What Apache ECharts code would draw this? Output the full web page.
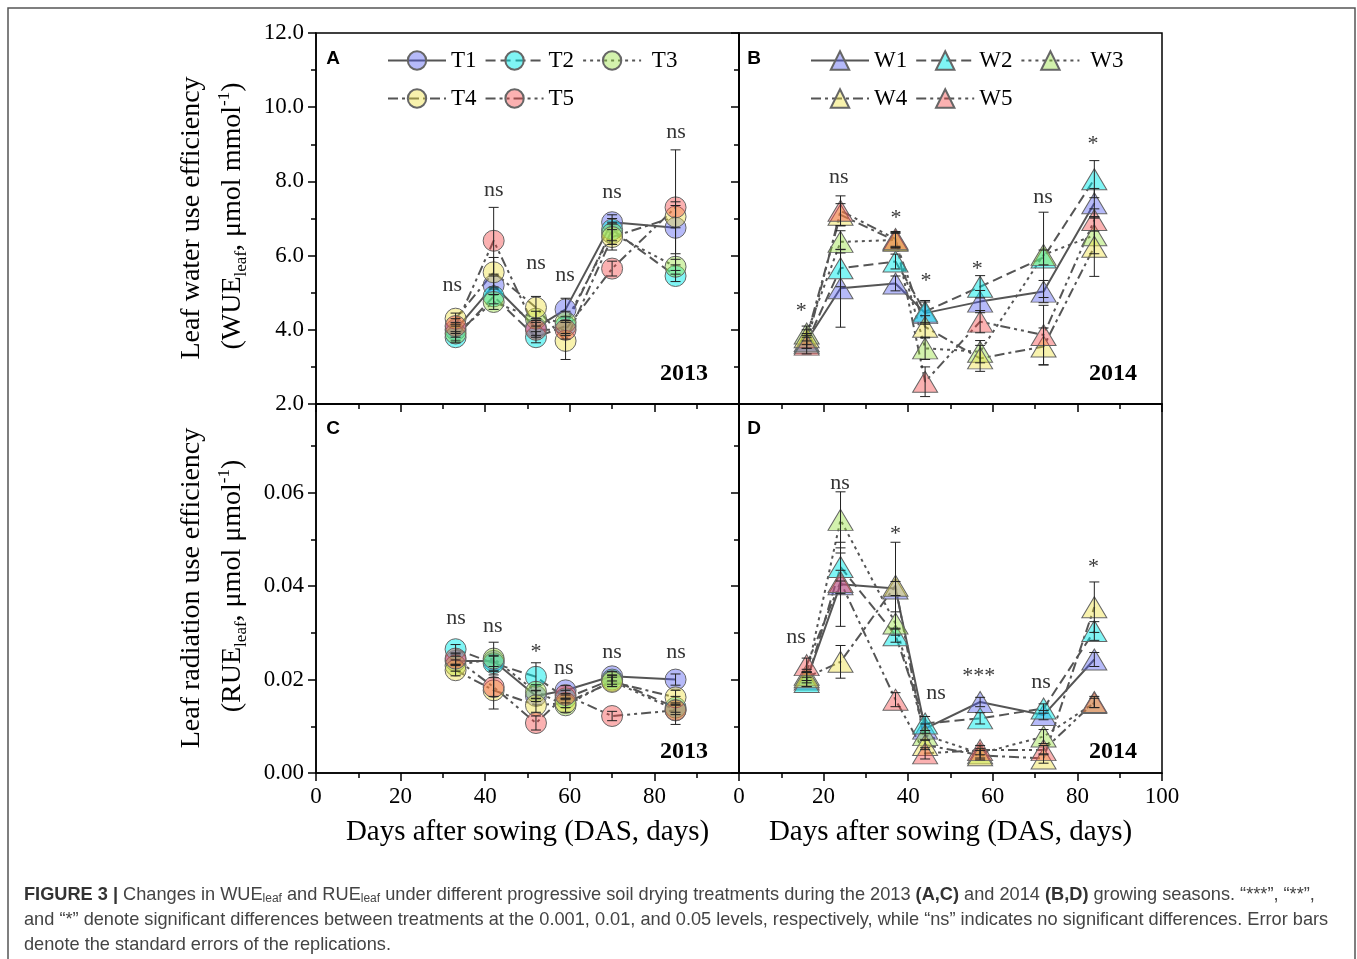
<!DOCTYPE html>
<html>
<head>
<meta charset="utf-8">
<script src="https://cdn.jsdelivr.net/npm/echarts@6/dist/echarts.min.js"></script>
<style>
  html, body { margin: 0; padding: 0; background: #fff; }
  #chart { width: 1357px; height: 959px; }
</style>
</head>
<body>
<div id="chart"></div>
<script>
// sampling days (DAS)
const das2013 = [33, 42, 52, 59, 70, 85];
const das2014 = [16, 24, 37, 44, 57, 72, 84];

const names2013 = ['T1', 'T2', 'T3', 'T4', 'T5'];
const names2014 = ['W1', 'W2', 'W3', 'W4', 'W5'];

// A: WUE leaf 2013
const wueT1 = [4.0, 5.2, 4.05, 4.55, 6.9, 6.75];
const wueT2 = [3.8, 4.9, 3.8, 4.1, 6.7, 5.45];
const wueT3 = [3.9, 4.75, 4.3, 4.2, 6.6, 5.7];
const wueT4 = [4.3, 5.55, 4.6, 3.7, 6.5, 7.05];
const wueT5 = [4.1, 6.4, 4.0, 4.0, 5.65, 7.3];
const wueT1Se = [0.2, 0.25, 0.2, 0.3, 0.2, 0.7];
const wueT2Se = [0.15, 0.2, 0.15, 0.25, 0.3, 0.15];
const wueT3Se = [0.2, 0.2, 0.2, 0.3, 0.3, 0.2];
const wueT4Se = [0.15, 0.4, 0.3, 0.5, 0.35, 0.3];
const wueT5Se = [0.2, 0.9, 0.2, 0.25, 0.2, 1.55];

// B: WUE leaf 2014
const wueW1 = [3.7, 5.12, 5.25, 4.45, 4.76, 5.03, 7.41];
const wueW2 = [3.65, 5.66, 5.84, 4.49, 5.16, 5.95, 8.06];
const wueW3 = [3.9, 6.37, 6.42, 3.5, 3.41, 6.02, 6.55];
const wueW4 = [3.8, 7.1, 6.4, 4.08, 3.23, 3.55, 6.24];
const wueW5 = [3.6, 7.21, 6.45, 2.6, 4.22, 3.86, 6.96];
const wueW1Se = [0.2, 1.05, 0.2, 0.3, 0.3, 0.3, 0.4];
const wueW2Se = [0.15, 0.5, 0.2, 0.3, 0.3, 0.2, 0.5];
const wueW3Se = [0.2, 0.3, 0.2, 0.3, 0.3, 1.15, 0.5];
const wueW4Se = [0.2, 0.3, 0.2, 0.3, 0.35, 0.5, 0.8];
const wueW5Se = [0.25, 0.4, 0.2, 0.4, 0.3, 0.8, 0.3];

// C: RUE leaf 2013
const rueT1 = [0.024, 0.024, 0.0165, 0.0177, 0.0207, 0.020];
const rueT2 = [0.0265, 0.0235, 0.0206, 0.016, 0.020, 0.014];
const rueT3 = [0.023, 0.0245, 0.0174, 0.0145, 0.0197, 0.0135];
const rueT4 = [0.022, 0.0177, 0.0145, 0.015, 0.0195, 0.0162];
const rueT5 = [0.0245, 0.0184, 0.0107, 0.0167, 0.0122, 0.0134];
const rueT1Se = [0.001, 0.0012, 0.0012, 0.001, 0.001, 0.0012];
const rueT2Se = [0.001, 0.0015, 0.003, 0.001, 0.001, 0.001];
const rueT3Se = [0.0012, 0.0035, 0.0015, 0.0015, 0.0012, 0.001];
const rueT4Se = [0.0012, 0.004, 0.0015, 0.001, 0.001, 0.0015];
const rueT5Se = [0.0012, 0.002, 0.0015, 0.001, 0.001, 0.003];

// D: RUE leaf 2014
const rueW1 = [0.020, 0.0404, 0.0395, 0.0095, 0.0152, 0.0124, 0.0243];
const rueW2 = [0.0195, 0.0441, 0.0295, 0.0106, 0.0117, 0.0138, 0.0304];
const rueW3 = [0.021, 0.0542, 0.032, 0.0081, 0.0042, 0.0078, 0.015];
const rueW4 = [0.0205, 0.0238, 0.0401, 0.006, 0.0038, 0.0031, 0.0355];
const rueW5 = [0.0231, 0.0409, 0.0157, 0.0042, 0.0049, 0.0049, 0.0152];
const rueW1Se = [0.0015, 0.009, 0.0015, 0.001, 0.001, 0.001, 0.0015];
const rueW2Se = [0.001, 0.003, 0.0015, 0.0015, 0.0012, 0.001, 0.002];
const rueW3Se = [0.0012, 0.006, 0.0025, 0.001, 0.001, 0.0015, 0.001];
const rueW4Se = [0.0012, 0.0035, 0.0093, 0.001, 0.001, 0.001, 0.0054];
const rueW5Se = [0.0015, 0.0025, 0.0015, 0.0012, 0.001, 0.001, 0.0012];

// significance labels [DAS, y, text]
const sigA = [[32.2, 5.21, 'ns'], [42, 7.77, 'ns'], [52, 5.8, 'ns'], [58.9, 5.48, 'ns'], [70, 7.71, 'ns'], [85.1, 9.33, 'ns']];
const sigB = [[14.7, 4.5, '*'], [23.6, 8.12, 'ns'], [37.1, 7.0, '*'], [44.2, 5.3, '*'], [56.3, 5.63, '*'], [71.9, 7.58, 'ns'], [83.7, 9.0, '*']];
const sigC = [[33.1, 0.0331, 'ns'], [41.8, 0.0314, 'ns'], [52, 0.0258, '*'], [58.6, 0.0224, 'ns'], [70, 0.0258, 'ns'], [85.1, 0.0258, 'ns']];
const sigD = [[13.5, 0.029, 'ns'], [23.9, 0.0621, 'ns'], [37, 0.0512, '*'], [46.6, 0.0171, 'ns'], [56.7, 0.0207, '***'], [71.4, 0.0194, 'ns'], [83.8, 0.044, '*']];

const fills = ['rgba(80,90,240,0.42)', 'rgba(0,235,235,0.5)', 'rgba(150,225,60,0.42)', 'rgba(238,225,60,0.42)', 'rgba(245,70,70,0.42)'];
const dashes = ['solid', [10, 5], [3, 4], [10, 4, 3, 4], [10, 4, 3, 4, 3, 4]];
const serif = '"Liberation Serif", "Times New Roman", serif';
const sans = '"Liberation Sans", Arial, sans-serif';

const chart = echarts.init(document.getElementById('chart'));

function errRender(params, api) {
  const x = api.value(0), y = api.value(1), e = api.value(2);
  const t = api.coord([x, y + e]);
  const b = api.coord([x, y - e]);
  const w = 5;
  const st = { stroke: '#222', lineWidth: 1 };
  return {
    type: 'group',
    children: [
      { type: 'line', shape: { x1: t[0], y1: t[1], x2: b[0], y2: b[1] }, style: st },
      { type: 'line', shape: { x1: t[0] - w, y1: t[1], x2: t[0] + w, y2: t[1] }, style: st },
      { type: 'line', shape: { x1: b[0] - w, y1: b[1], x2: b[0] + w, y2: b[1] }, style: st }
    ]
  };
}

const series = [];
function addPanel(idx, xs, names, vals, ses, sig, symbol, size) {
  names.forEach((n, i) => {
    series.push({
      name: n,
      type: 'line',
      xAxisIndex: idx,
      yAxisIndex: idx,
      data: xs.map((x, j) => [x, vals[i][j]]),
      symbol: symbol,
      symbolSize: size,
      z: 3,
      lineStyle: { color: '#555', width: 2, type: dashes[i] },
      itemStyle: { color: fills[i], borderColor: '#666', borderWidth: 1 },
      emphasis: { disabled: true }
    });
  });
  names.forEach((n, i) => {
    series.push({
      type: 'custom',
      xAxisIndex: idx,
      yAxisIndex: idx,
      z: 4,
      silent: true,
      renderItem: errRender,
      encode: { x: 0, y: 1 },
      data: xs.map((x, j) => [x, vals[i][j], ses[i][j]])
    });
  });
  series.push({
    type: 'scatter',
    xAxisIndex: idx,
    yAxisIndex: idx,
    symbolSize: 1,
    silent: true,
    itemStyle: { color: 'transparent' },
    label: {
      show: true,
      position: 'inside',
      formatter: p => p.data[2],
      fontFamily: serif,
      fontSize: 22,
      color: '#000'
    },
    data: sig
  });
}

addPanel(0, das2013, names2013, [wueT1, wueT2, wueT3, wueT4, wueT5], [wueT1Se, wueT2Se, wueT3Se, wueT4Se, wueT5Se], sigA, 'circle', 21);
addPanel(1, das2014, names2014, [wueW1, wueW2, wueW3, wueW4, wueW5], [wueW1Se, wueW2Se, wueW3Se, wueW4Se, wueW5Se], sigB, 'triangle', [25, 21]);
addPanel(2, das2013, names2013, [rueT1, rueT2, rueT3, rueT4, rueT5], [rueT1Se, rueT2Se, rueT3Se, rueT4Se, rueT5Se], sigC, 'circle', 21);
addPanel(3, das2014, names2014, [rueW1, rueW2, rueW3, rueW4, rueW5], [rueW1Se, rueW2Se, rueW3Se, rueW4Se, rueW5Se], sigD, 'triangle', [25, 21]);

const axisLine = { show: true, onZero: false, lineStyle: { color: '#000', width: 1.5 } };
const tick = { show: true, inside: false, length: 8, lineStyle: { color: '#000', width: 1.5 } };
const minor = { show: true, splitNumber: 2, length: 5, lineStyle: { color: '#000', width: 1.5 } };

function xAx(idx, showLabel, showMax) {
  return {
    type: 'value', gridIndex: idx, min: 0, max: 100, interval: 20,
    axisLine, axisTick: tick, minorTick: minor, splitLine: { show: false },
    axisLabel: { show: showLabel, showMaxLabel: showMax, fontFamily: serif, fontSize: 23, color: '#000', margin: 12 },
    name: showLabel ? 'Days after sowing (DAS, days)' : '',
    nameLocation: 'middle', nameGap: 45,
    nameTextStyle: { fontFamily: serif, fontSize: 29, color: '#000' }
  };
}
function yAx(idx, min, max, interval, digits, showLabel) {
  return {
    type: 'value', gridIndex: idx, min, max, interval,
    axisLine, axisTick: tick, minorTick: minor, splitLine: { show: false },
    axisLabel: {
      show: showLabel, showMaxLabel: max === 12, fontFamily: serif, fontSize: 23, color: '#000', margin: 12,
      formatter: v => v.toFixed(digits)
    }
  };
}

function legendRow(data, left, top) {
  return {
    data, left, top, orient: 'horizontal', padding: 0,
    itemWidth: 58, itemHeight: 23, itemGap: 8,
    selectedMode: false,
    formatter: n => (n === 'T3' || n === 'W3') ? ' ' + n : n,
    textStyle: { fontFamily: serif, fontSize: 23, color: '#000', padding: [0, 0, 0, 0] }
  };
}

function vText(x, y, rich) {
  return {
    type: 'text', x, y, rotation: Math.PI / 2,
    style: {
      text: rich,
      fontFamily: serif, fontSize: 28, fill: '#000',
      align: 'center', verticalAlign: 'middle',
      rich: {
        n: { fontFamily: serif, fontSize: 28, fill: '#000', lineHeight: 34 },
        s: { fontFamily: serif, fontSize: 17, fill: '#000', verticalAlign: 'bottom', lineHeight: 34, padding: [10, 0, 0, 0] },
        p: { fontFamily: serif, fontSize: 17, fill: '#000', verticalAlign: 'top', lineHeight: 34, padding: [0, 0, 12, 0] }
      }
    }
  };
}

function plain(x, y, text, font, size, weight) {
  return {
    type: 'text', x, y,
    style: { text, fontFamily: font, fontSize: size, fontWeight: weight, fill: '#000', align: 'center', verticalAlign: 'middle' }
  };
}

const capRich = {
  b: { fontFamily: sans, fontSize: 18.2, fontWeight: 'bold', fill: '#333' },
  n: { fontFamily: sans, fontSize: 18.2, fill: '#444' },
  s: { fontFamily: sans, fontSize: 12, fill: '#444', padding: [8, 0, 0, 0] }
};
function capLine(y, text) {
  return { type: 'text', x: 24, y, style: { text, rich: capRich, fontFamily: sans, fontSize: 18.2, fill: '#444', align: 'left', verticalAlign: 'middle' } };
}

const option = {
  backgroundColor: '#fff',
  animation: false,
  grid: [
    { left: 316, top: 33, width: 423, height: 371, show: true, borderColor: '#000', borderWidth: 1.5, backgroundColor: 'transparent' },
    { left: 739, top: 33, width: 423, height: 371, show: true, borderColor: '#000', borderWidth: 1.5, backgroundColor: 'transparent' },
    { left: 316, top: 404, width: 423, height: 369, show: true, borderColor: '#000', borderWidth: 1.5, backgroundColor: 'transparent' },
    { left: 739, top: 404, width: 423, height: 369, show: true, borderColor: '#000', borderWidth: 1.5, backgroundColor: 'transparent' }
  ],
  xAxis: [xAx(0, false, false), xAx(1, false, false), xAx(2, true, false), xAx(3, true, true)],
  yAxis: [
    yAx(0, 2, 12, 2, 1, true),
    yAx(1, 2, 12, 2, 1, false),
    yAx(2, 0, 0.079, 0.02, 2, true),
    yAx(3, 0, 0.079, 0.02, 2, false)
  ],
  legend: [
    legendRow(['T1', 'T2', 'T3'], 387, 49),
    legendRow(['T4', 'T5'], 387, 87),
    legendRow(['W1', 'W2', 'W3'], 810, 49),
    legendRow(['W4', 'W5'], 810, 87)
  ],
  graphic: [
    { type: 'rect', shape: { x: 8, y: 8, width: 1347, height: 970 }, style: { fill: 'none', stroke: '#555', lineWidth: 1.5 }, silent: true },
    vText(192, 218, '{n|Leaf water use efficiency}'),
    vText(233, 216, '{n|(WUE}{s|leaf}{n|, μmol mmol}{p|-1}{n|)}'),
    vText(192, 588, '{n|Leaf radiation use efficiency}'),
    vText(233, 586, '{n|(RUE}{s|leaf}{n|, μmol μmol}{p|-1}{n|)}'),
    plain(333, 59, 'A', sans, 19, 'bold'),
    plain(754, 59, 'B', sans, 19, 'bold'),
    plain(333, 429, 'C', sans, 19, 'bold'),
    plain(754, 429, 'D', sans, 19, 'bold'),
    plain(684, 374, '2013', serif, 24, 'bold'),
    plain(1113, 374, '2014', serif, 24, 'bold'),
    plain(684, 752, '2013', serif, 24, 'bold'),
    plain(1113, 752, '2014', serif, 24, 'bold'),
    capLine(895, '{b|FIGURE 3 |}{n| Changes in WUE}{s|leaf}{n| and RUE}{s|leaf}{n| under different progressive soil drying treatments during the 2013 }{b|(A,C)}{n| and 2014 }{b|(B,D)}{n| growing seasons. “***”, “**”,}'),
    capLine(920, '{n|and “*” denote significant differences between treatments at the 0.001, 0.01, and 0.05 levels, respectively, while “ns” indicates no significant differences. Error bars}'),
    capLine(945, '{n|denote the standard errors of the replications.}')
  ],
  series
};

chart.setOption(option);
</script>
</body>
</html>
